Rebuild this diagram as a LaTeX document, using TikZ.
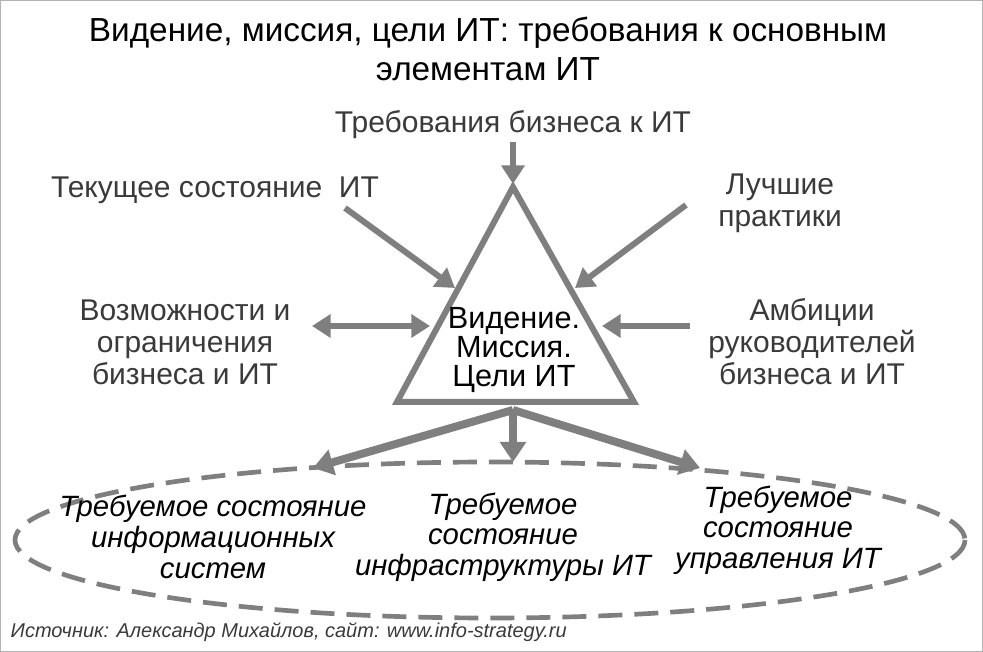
\documentclass[tikz,border=0pt]{standalone}
\usepackage{fontspec}
\setmainfont{Liberation Sans}
\usetikzlibrary{arrows.meta}
\definecolor{ag}{HTML}{7F7F7F}
\definecolor{tx}{HTML}{3A3A3A}
\tikzset{
 ar/.style={draw=ag,line width=4.5pt,-{Triangle[length=14pt,width=17pt]}},
 bar/.style={draw=ag,line width=6pt,-{Triangle[length=15pt,width=19pt]}},
 dar/.style={draw=ag,line width=4.5pt,{Triangle[length=14pt,width=17pt]}-{Triangle[length=14pt,width=17pt]}},
 lbl/.style={text=tx,font=\fontsize{22.5}{24}\selectfont,align=center},
 it/.style={text=black,font=\fontsize{22}{23}\selectfont\itshape,align=center},
}
\begin{document}
\begin{tikzpicture}[x=0.75pt,y=-0.75pt]
\useasboundingbox (0,0) rectangle (983,652);
\draw[gray!60,line width=1pt] (0.5,0.5) rectangle (982.5,651.5);
\node[font=\fontsize{25}{29}\selectfont,align=center] (title) at (488,49) {Видение, миссия, цели ИТ: требования к основным\\элементам ИТ};
\draw[ag,line width=4.5pt,line join=miter] (513,187) -- (634,402) -- (397,402) -- cycle;
\node[font=\fontsize{23}{22}\selectfont,align=center] (c) at (514,350) {Видение.\\Миссия.\\Цели ИТ};
\node[lbl] (l1) at (513,125) {Требования бизнеса к ИТ};
\node[lbl] (l2) at (215,190) {Текущее состояние\ \ ИТ};
\node[lbl] (l3) at (780,203) {Лучшие\\практики};
\node[lbl] (l4) at (185,342) {Возможности и\\ограничения\\бизнеса и ИТ};
\node[lbl] (l5) at (812,342) {Амбиции\\руководителей\\бизнеса и ИТ};
\coordinate (a1s) at (513,142); \coordinate (a1e) at (513,184);
\coordinate (a2s) at (345,208); \coordinate (a2e) at (455,288);
\coordinate (a3s) at (686,205); \coordinate (a3e) at (575,288);
\coordinate (a4s) at (312,326); \coordinate (a4e) at (430,326);
\coordinate (a5s) at (690,326); \coordinate (a5e) at (602,326);
\coordinate (b) at (513,410);
\coordinate (b1) at (313,468); \coordinate (b2) at (513,462); \coordinate (b3) at (700,468);
\draw[ar] (a1s) -- (a1e);
\draw[ar] (a2s) -- (a2e);
\draw[ar] (a3s) -- (a3e);
\draw[dar] (a4s) -- (a4e);
\draw[ar] (a5s) -- (a5e);
\draw[bar] (b) -- (b1);
\draw[bar] (b) -- (b2);
\draw[bar] (b) -- (b3);
\draw[ag,line width=3.5pt,dash pattern=on 18pt off 9pt] (490,540) ellipse [x radius=475, y radius=78];
\node[it] (t1) at (213,537) {Требуемое состояние\\информационных\\систем};
\node[it] (t2) at (503,537) {Требуемое\\состояние\\инфраструктуры ИТ};
\node[it] (t3) at (778,530) {Требуемое\\состояние\\управления ИТ};
\node[anchor=west,text=tx,font=\fontsize{15}{16}\selectfont\itshape] (src) at (6,632) {Источник: Александр Михайлов, сайт: www.info-strategy.ru};
\end{tikzpicture}
\end{document}
